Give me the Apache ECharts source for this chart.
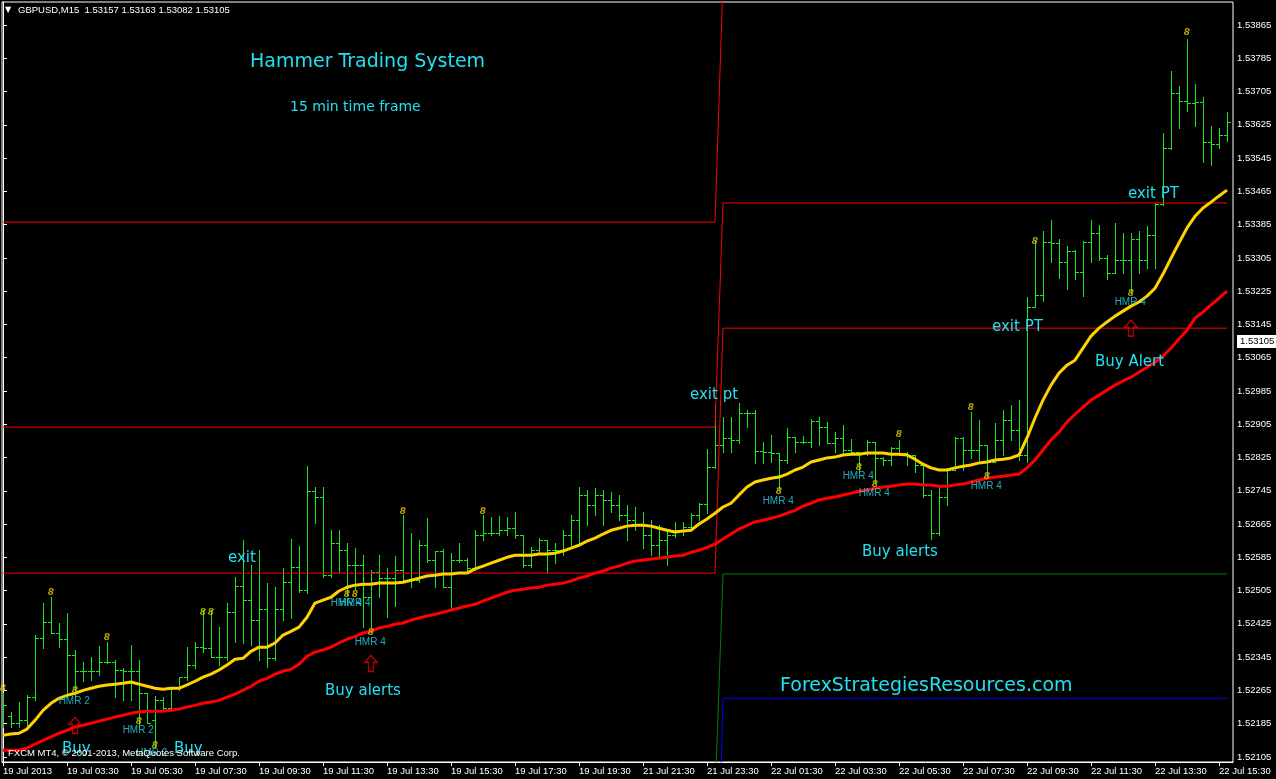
<!DOCTYPE html>
<html><head><meta charset="utf-8">
<script src="https://cdn.jsdelivr.net/npm/echarts@6/dist/echarts.min.js"></script>
<style>html,body{margin:0;padding:0;background:#000;overflow:hidden}#c{width:1276px;height:779px}</style>
</head><body><div id="c"></div>
<script>
// ---- time axis (15-minute bars, index 0 = 19 Jul 01:30) ----
const tickBars = [0,8,16,24,32,40,48,56,64,72,80,88,96,104,112,120,128,136,144,152];
const timeLabels = ['19 Jul 2013','19 Jul 03:30','19 Jul 05:30','19 Jul 07:30','19 Jul 09:30','19 Jul 11:30','19 Jul 13:30','19 Jul 15:30','19 Jul 17:30','19 Jul 19:30','21 Jul 21:30','21 Jul 23:30','22 Jul 01:30','22 Jul 03:30','22 Jul 05:30','22 Jul 07:30','22 Jul 09:30','22 Jul 11:30','22 Jul 13:30','22 Jul 15:30'];
const priceTicks = [1.52105,1.52185,1.52265,1.52345,1.52425,1.52505,1.52585,1.52665,1.52745,1.52825,1.52905,1.52985,1.53065,1.53145,1.53225,1.53305,1.53385,1.53465,1.53545,1.53625,1.53705,1.53785,1.53865];
const lastPrice = 1.53105;

// ---- OHLC ----
const open = [
1.52193,1.52203,1.52186,1.52193,1.52249,1.52391,1.52429,1.52403,1.52388,1.52350,
1.52311,1.52311,1.52311,1.52333,1.52333,1.52314,1.52311,1.52311,1.52258,1.52193,
1.52241,1.52222,1.52273,1.52297,1.52326,1.52369,1.52367,1.52345,1.52345,1.52453,
1.52516,1.52482,1.52434,1.52460,1.52342,1.52460,1.52525,1.52561,1.52506,1.52744,
1.52730,1.52542,1.52619,1.52602,1.52566,1.52566,1.52489,1.52549,1.52535,1.52535,
1.52554,1.52530,1.52530,1.52614,1.52578,1.52600,1.52513,1.52578,1.52578,1.52559,
1.52638,1.52643,1.52643,1.52650,1.52655,1.52638,1.52566,1.52602,1.52626,1.52602,
1.52602,1.52638,1.52674,1.52735,1.52711,1.52735,1.52723,1.52711,1.52686,1.52674,
1.52662,1.52638,1.52614,1.52626,1.52638,1.52650,1.52658,1.52686,1.52713,1.52802,
1.52855,1.52872,1.52867,1.52932,1.52932,1.52840,1.52838,1.52836,1.52819,1.52874,
1.52862,1.52862,1.52912,1.52898,1.52860,1.52872,1.52843,1.52838,1.52836,1.52862,
1.52824,1.52819,1.52848,1.52836,1.52831,1.52807,1.52735,1.52643,1.52730,1.52795,
1.52872,1.52843,1.52843,1.52855,1.52814,1.52867,1.52915,1.52891,1.52831,1.53187,
1.53215,1.53343,1.53341,1.53295,1.53321,1.53271,1.53343,1.53365,1.53304,1.53268,
1.53300,1.53300,1.53350,1.53300,1.53360,1.53434,1.53569,1.53701,1.53682,1.53677,
1.53680,1.53583,1.53579,1.53600];
const high = [
1.52258,1.52213,1.52237,1.52253,1.52398,1.52475,1.52489,1.52427,1.52451,1.52362,
1.52333,1.52345,1.52371,1.52381,1.52338,1.52318,1.52374,1.52338,1.52258,1.52251,
1.52249,1.52273,1.52297,1.52369,1.52381,1.52458,1.52458,1.52417,1.52475,1.52537,
1.52626,1.52566,1.52602,1.52523,1.52513,1.52559,1.52629,1.52612,1.52804,1.52754,
1.52754,1.52650,1.52650,1.52619,1.52607,1.52590,1.52554,1.52590,1.52559,1.52588,
1.52686,1.52643,1.52626,1.52679,1.52600,1.52605,1.52595,1.52619,1.52583,1.52650,
1.52686,1.52682,1.52684,1.52682,1.52694,1.52638,1.52609,1.52631,1.52626,1.52619,
1.52650,1.52686,1.52754,1.52747,1.52751,1.52747,1.52742,1.52735,1.52711,1.52706,
1.52694,1.52674,1.52662,1.52650,1.52670,1.52670,1.52691,1.52715,1.52845,1.52951,
1.52922,1.52922,1.52956,1.52939,1.52939,1.52862,1.52879,1.52836,1.52896,1.52874,
1.52876,1.52917,1.52922,1.52910,1.52886,1.52903,1.52869,1.52838,1.52867,1.52862,
1.52826,1.52850,1.52867,1.52838,1.52831,1.52807,1.52747,1.52754,1.52800,1.52874,
1.52874,1.52934,1.52915,1.52855,1.52908,1.52939,1.52951,1.52963,1.53211,1.53345,
1.53369,1.53396,1.53350,1.53333,1.53324,1.53345,1.53396,1.53384,1.53312,1.53389,
1.53365,1.53365,1.53369,1.53381,1.53437,1.53605,1.53754,1.53718,1.53831,1.53723,
1.53692,1.53622,1.53617,1.53656];
const low = [
1.52177,1.52177,1.52177,1.52177,1.52241,1.52367,1.52403,1.52369,1.52249,1.52249,
1.52287,1.52290,1.52302,1.52330,1.52249,1.52241,1.52241,1.52177,1.52186,1.52128,
1.52217,1.52217,1.52265,1.52290,1.52318,1.52357,1.52345,1.52326,1.52338,1.52381,
1.52379,1.52374,1.52338,1.52321,1.52338,1.52434,1.52439,1.52501,1.52499,1.52667,
1.52537,1.52537,1.52549,1.52494,1.52506,1.52417,1.52405,1.52489,1.52441,1.52468,
1.52525,1.52513,1.52525,1.52573,1.52513,1.52513,1.52463,1.52573,1.52547,1.52554,
1.52626,1.52638,1.52638,1.52638,1.52631,1.52561,1.52561,1.52597,1.52549,1.52571,
1.52590,1.52614,1.52614,1.52662,1.52686,1.52662,1.52694,1.52674,1.52626,1.52650,
1.52607,1.52590,1.52583,1.52566,1.52633,1.52638,1.52650,1.52674,1.52691,1.52800,
1.52838,1.52838,1.52860,1.52898,1.52812,1.52812,1.52814,1.52747,1.52812,1.52838,
1.52860,1.52850,1.52855,1.52860,1.52838,1.52836,1.52838,1.52790,1.52831,1.52763,
1.52807,1.52807,1.52831,1.52807,1.52790,1.52730,1.52629,1.52638,1.52711,1.52795,
1.52795,1.52824,1.52819,1.52778,1.52814,1.52831,1.52867,1.52819,1.52814,1.53187,
1.53201,1.53295,1.53256,1.53230,1.53254,1.53213,1.53295,1.53300,1.53254,1.53268,
1.53268,1.53220,1.53268,1.53280,1.53280,1.53432,1.53567,1.53617,1.53658,1.53622,
1.53535,1.53528,1.53569,1.53586];
const close = [
1.52229,1.52186,1.52193,1.52249,1.52391,1.52429,1.52403,1.52388,1.52350,1.52311,
1.52311,1.52311,1.52333,1.52333,1.52314,1.52311,1.52311,1.52258,1.52186,1.52241,
1.52222,1.52273,1.52297,1.52326,1.52369,1.52367,1.52345,1.52345,1.52453,1.52516,
1.52482,1.52434,1.52460,1.52342,1.52460,1.52525,1.52561,1.52506,1.52744,1.52730,
1.52542,1.52619,1.52602,1.52566,1.52566,1.52489,1.52549,1.52535,1.52535,1.52554,
1.52530,1.52530,1.52614,1.52578,1.52600,1.52513,1.52578,1.52578,1.52559,1.52638,
1.52643,1.52643,1.52650,1.52655,1.52638,1.52566,1.52602,1.52626,1.52602,1.52602,
1.52638,1.52674,1.52735,1.52711,1.52735,1.52723,1.52711,1.52686,1.52674,1.52662,
1.52638,1.52614,1.52626,1.52638,1.52650,1.52658,1.52686,1.52713,1.52802,1.52855,
1.52872,1.52867,1.52932,1.52932,1.52840,1.52838,1.52836,1.52819,1.52874,1.52862,
1.52862,1.52912,1.52898,1.52860,1.52872,1.52843,1.52838,1.52836,1.52862,1.52824,
1.52819,1.52848,1.52836,1.52831,1.52807,1.52735,1.52643,1.52730,1.52795,1.52872,
1.52843,1.52843,1.52855,1.52814,1.52867,1.52915,1.52891,1.52831,1.53187,1.53215,
1.53343,1.53341,1.53295,1.53321,1.53271,1.53343,1.53365,1.53304,1.53268,1.53300,
1.53300,1.53350,1.53300,1.53360,1.53434,1.53569,1.53701,1.53682,1.53677,1.53680,
1.53583,1.53579,1.53600,1.53632];

// ---- moving averages ----
const maYellow = [
1.52157,1.52160,1.52162,1.52172,1.52193,1.52217,1.52234,1.52246,1.52253,1.52258,
1.52265,1.52270,1.52275,1.52278,1.52280,1.52282,1.52285,1.52280,1.52275,1.52270,
1.52268,1.52270,1.52270,1.52278,1.52287,1.52297,1.52304,1.52314,1.52326,1.52340,
1.52342,1.52359,1.52369,1.52369,1.52379,1.52398,1.52407,1.52417,1.52441,1.52475,
1.52482,1.52489,1.52504,1.52513,1.52518,1.52520,1.52520,1.52523,1.52523,1.52523,
1.52525,1.52530,1.52535,1.52540,1.52542,1.52545,1.52545,1.52547,1.52547,1.52557,
1.52564,1.52571,1.52578,1.52585,1.52590,1.52590,1.52590,1.52593,1.52593,1.52595,
1.52600,1.52607,1.52614,1.52624,1.52631,1.52641,1.52650,1.52655,1.52660,1.52662,
1.52662,1.52660,1.52655,1.52650,1.52646,1.52648,1.52650,1.52665,1.52677,1.52691,
1.52706,1.52715,1.52735,1.52754,1.52766,1.52771,1.52775,1.52778,1.52785,1.52795,
1.52802,1.52814,1.52819,1.52824,1.52826,1.52831,1.52833,1.52833,1.52836,1.52836,
1.52836,1.52833,1.52833,1.52831,1.52821,1.52809,1.52800,1.52795,1.52795,1.52800,
1.52804,1.52807,1.52812,1.52814,1.52819,1.52821,1.52824,1.52831,1.52872,1.52920,
1.52963,1.52999,1.53028,1.53047,1.53059,1.53088,1.53117,1.53136,1.53151,1.53165,
1.53177,1.53189,1.53199,1.53213,1.53232,1.53266,1.53304,1.53341,1.53377,1.53405,
1.53425,1.53439,1.53454,1.53468];
const maRed = [
1.52121,1.52121,1.52121,1.52126,1.52136,1.52145,1.52153,1.52162,1.52169,1.52177,
1.52181,1.52186,1.52191,1.52196,1.52201,1.52205,1.52210,1.52213,1.52215,1.52215,
1.52215,1.52217,1.52220,1.52225,1.52229,1.52234,1.52237,1.52241,1.52249,1.52256,
1.52265,1.52275,1.52287,1.52294,1.52304,1.52311,1.52316,1.52328,1.52347,1.52357,
1.52362,1.52369,1.52379,1.52388,1.52395,1.52403,1.52407,1.52415,1.52419,1.52424,
1.52427,1.52434,1.52439,1.52444,1.52448,1.52453,1.52458,1.52463,1.52468,1.52472,
1.52480,1.52487,1.52494,1.52501,1.52506,1.52508,1.52511,1.52513,1.52518,1.52520,
1.52523,1.52528,1.52535,1.52540,1.52547,1.52552,1.52559,1.52564,1.52571,1.52576,
1.52578,1.52581,1.52583,1.52585,1.52588,1.52590,1.52597,1.52602,1.52609,1.52617,
1.52629,1.52641,1.52653,1.52662,1.52670,1.52674,1.52679,1.52684,1.52691,1.52698,
1.52708,1.52715,1.52723,1.52727,1.52730,1.52735,1.52739,1.52744,1.52747,1.52751,
1.52754,1.52756,1.52759,1.52761,1.52761,1.52759,1.52759,1.52756,1.52756,1.52759,
1.52761,1.52766,1.52771,1.52775,1.52778,1.52780,1.52783,1.52785,1.52800,1.52819,
1.52843,1.52867,1.52886,1.52910,1.52929,1.52946,1.52963,1.52975,1.52987,1.52999,
1.53009,1.53018,1.53030,1.53042,1.53054,1.53069,1.53088,1.53110,1.53131,1.53160,
1.53175,1.53192,1.53208,1.53225];

// ---- daily levels (19 Jul session -> 22 Jul session) ----
const sessionEnd = 89, sessionStart = 90, lastBar = 153;
const redLevelsOld = [1.53391, 1.52898, 1.52547];
const redLevelsNew = [1.53971, 1.53437, 1.53136];
const greenLevels = [1.52006, 1.52545];
const blueLevels = [1.51522, 1.52246];

// ---- annotations tied to bars: [bar, price, text] ----
const hmrLabels = [
[8.9,1.52239,'HMR 2'],[16.9,1.52169,'HMR 2'],[18.6,1.52114,'HMR 2'],
[42.9,1.52475,'HMR 4'],[44.0,1.52475,'HMR 4'],[45.9,1.52381,'HMR 4'],
[96.9,1.52720,'HMR 4'],[106.9,1.52780,'HMR 4'],[108.9,1.52739,'HMR 4'],
[122.9,1.52756,'HMR 4'],[140.9,1.53199,'HMR 4']];
const hammerMarks = [
[0,1.52270],[6,1.52501],[13,1.52393],[25,1.52451],[26,1.52451],[50,1.52694],[60,1.52694],
[112,1.52879],[121,1.52944],[129,1.53345],[148,1.53846],
[9,1.52265],[17,1.52189],[19,1.52133],[43,1.52494],[44,1.52494],[46,1.52403],
[97,1.52742],[107,1.52800],[109,1.52759],[123,1.52778],[141,1.53220]];
const buyArrows = [[9,1.52181],[46,1.52330],[141,1.53136]];

const AXIS_FONT = '"Liberation Sans",Arial,sans-serif';
const AXIS_SIZE = 9.5;
const NOTE_FONT = '"DejaVu Sans",sans-serif';
const CYAN = '#22e0f0';
const GREEN = '#1ee61e';

function levelLine(a, b) {
  return [[0, a], [sessionEnd, a], [sessionStart, b], [lastBar, b]];
}

function renderBar(params, api) {
  const i = api.value(0);
  const pO = api.coord([i, api.value(1)]);
  const pH = api.coord([i, api.value(2)]);
  const pL = api.coord([i, api.value(3)]);
  const pC = api.coord([i, api.value(4)]);
  const x = Math.round(pO[0]);
  const yh = Math.round(pH[1]), yl = Math.round(pL[1]);
  const yo = Math.round(pO[1]), yc = Math.round(pC[1]);
  const st = { fill: GREEN };
  return { type: 'group', children: [
    { type: 'rect', shape: { x: x, y: yh, width: 1, height: Math.max(1, yl - yh + 1) }, style: st },
    { type: 'rect', shape: { x: x - 3, y: yo, width: 3, height: 1 }, style: st },
    { type: 'rect', shape: { x: x + 1, y: yc, width: 3, height: 1 }, style: st }
  ]};
}

const chart = echarts.init(document.getElementById('c'), null, { renderer: 'canvas' });
const series = [
  { type: 'custom', renderItem: renderBar, clip: true, z: 2,
    data: open.map((o, i) => [i, o, high[i], low[i], close[i]]), encode: { x: 0, y: [1, 2, 3, 4] } }
];
redLevelsOld.forEach((v, k) => series.push({ type: 'line', data: levelLine(v, redLevelsNew[k]), showSymbol: false, clip: true, z: 3,
  lineStyle: { color: '#ff0000', width: 1 } }));
series.push({ type: 'line', data: levelLine(greenLevels[0], greenLevels[1]), showSymbol: false, clip: true, z: 3, lineStyle: { color: '#008000', width: 1 } });
series.push({ type: 'line', data: levelLine(blueLevels[0], blueLevels[1]), showSymbol: false, clip: true, z: 3, lineStyle: { color: '#0000ff', width: 1 } });
series.push({ type: 'line', data: maRed.map((v, i) => [i, v]), showSymbol: false, clip: true, z: 4, lineStyle: { color: '#ff0000', width: 3 } });
series.push({ type: 'line', data: maYellow.map((v, i) => [i, v]), showSymbol: false, clip: true, z: 5, lineStyle: { color: '#ffd200', width: 3 } });
series.push({ type: 'scatter', data: hammerMarks, symbolSize: 1, itemStyle: { color: 'rgba(0,0,0,0)' }, z: 6,
  label: { show: true, formatter: '8', position: 'inside', color: '#d8c400', fontSize: 9, fontWeight: 'bold', fontStyle: 'italic', fontFamily: NOTE_FONT } });
series.push({ type: 'scatter', data: buyArrows, z: 6,
  symbol: 'path://M6,0 L12,7 L8.5,7 L8.5,16 L3.5,16 L3.5,7 L0,7 Z', symbolSize: [12, 16],
  itemStyle: { color: 'rgba(0,0,0,0)', borderColor: '#e00000', borderWidth: 1.5 } });
series.push({ type: 'scatter', data: hmrLabels, symbolSize: 1, itemStyle: { color: 'rgba(0,0,0,0)' }, z: 7,
  label: { show: true, formatter: p => p.data[2], position: 'inside', color: '#2ad6ea', fontSize: 10, fontFamily: '"Liberation Sans",Arial,sans-serif' } });
series.forEach(s => { s.animation = false; s.silent = true; });

chart.setOption({
  backgroundColor: '#000000',
  animation: false,
  grid: { left: 2, right: 43, top: 2, bottom: 17, show: true, borderColor: '#ffffff', borderWidth: 1,
    outerBoundsMode: 'none', containLabel: false },
  xAxis: { type: 'value', min: -0.125, max: 153.75,
    axisLine: { show: true, lineStyle: { color: '#ffffff' } },
    axisTick: { show: true, customValues: tickBars, length: 4, lineStyle: { color: '#ffffff' } },
    axisLabel: { customValues: tickBars, formatter: v => timeLabels[tickBars.indexOf(Math.round(v))] || '',
      color: '#ffffff', fontFamily: AXIS_FONT, fontSize: AXIS_SIZE, align: 'left', margin: 4, hideOverlap: false },
    splitLine: { show: false } },
  yAxis: { type: 'value', position: 'right', min: 1.520928, max: 1.539203, scale: true,
    axisLine: { show: true, lineStyle: { color: '#ffffff' } },
    axisTick: { show: true, customValues: priceTicks, length: 4, lineStyle: { color: '#ffffff' } },
    axisLabel: { customValues: priceTicks, formatter: v => v.toFixed(5), color: '#ffffff', fontFamily: AXIS_FONT, fontSize: AXIS_SIZE, margin: 4, hideOverlap: false },
    splitLine: { show: false } },
  series
});

const yLast = chart.convertToPixel({ yAxisIndex: 0 }, lastPrice);
function note(text, x, y, size) {
  return { type: 'text', x, y, z: 100, silent: true,
    style: { text, fill: CYAN, font: size + 'px ' + NOTE_FONT, align: 'left', verticalAlign: 'middle' } };
}
chart.setOption({ graphic: [
  { type: 'text', x: 5, y: 10, z: 100, style: { text: '\u25BC', fill: '#ffffff', font: '8px "DejaVu Sans"', verticalAlign: 'middle' } },
  { type: 'text', x: 18, y: 10, z: 100, style: { text: 'GBPUSD,M15  1.53157 1.53163 1.53082 1.53105', fill: '#ffffff', font: AXIS_SIZE + 'px ' + AXIS_FONT, verticalAlign: 'middle' } },
  note('Hammer Trading System', 250, 62, 19),
  note('15 min time frame', 290, 107, 14),
  note('exit', 228, 558, 15),
  note('Buy alerts', 325, 691, 15),
  note('exit pt', 690, 395, 15),
  note('Buy alerts', 862, 552, 15),
  note('exit PT', 992, 327, 15),
  note('exit PT', 1128, 194, 15),
  note('Buy Alert', 1095, 362, 15),
  note('ForexStrategiesResources.com', 780, 686, 19),
  note('Buy', 62, 749, 15),
  note('Buy', 174, 749, 15),
  { type: 'text', x: 8, y: 753, z: 101, style: { text: 'FXCM MT4, \u00A9 2001-2013, MetaQuotes Software Corp.', fill: '#ffffff', font: AXIS_SIZE + 'px ' + AXIS_FONT, verticalAlign: 'middle' } },
  { type: 'rect', x: 1237, y: Math.round(yLast) - 6, z: 100, shape: { width: 39, height: 13 }, style: { fill: '#ffffff' } },
  { type: 'text', x: 1240, y: Math.round(yLast) + 0.5, z: 101, style: { text: lastPrice.toFixed(5), fill: '#000000', font: AXIS_SIZE + 'px ' + AXIS_FONT, verticalAlign: 'middle' } }
]});
</script></body></html>
